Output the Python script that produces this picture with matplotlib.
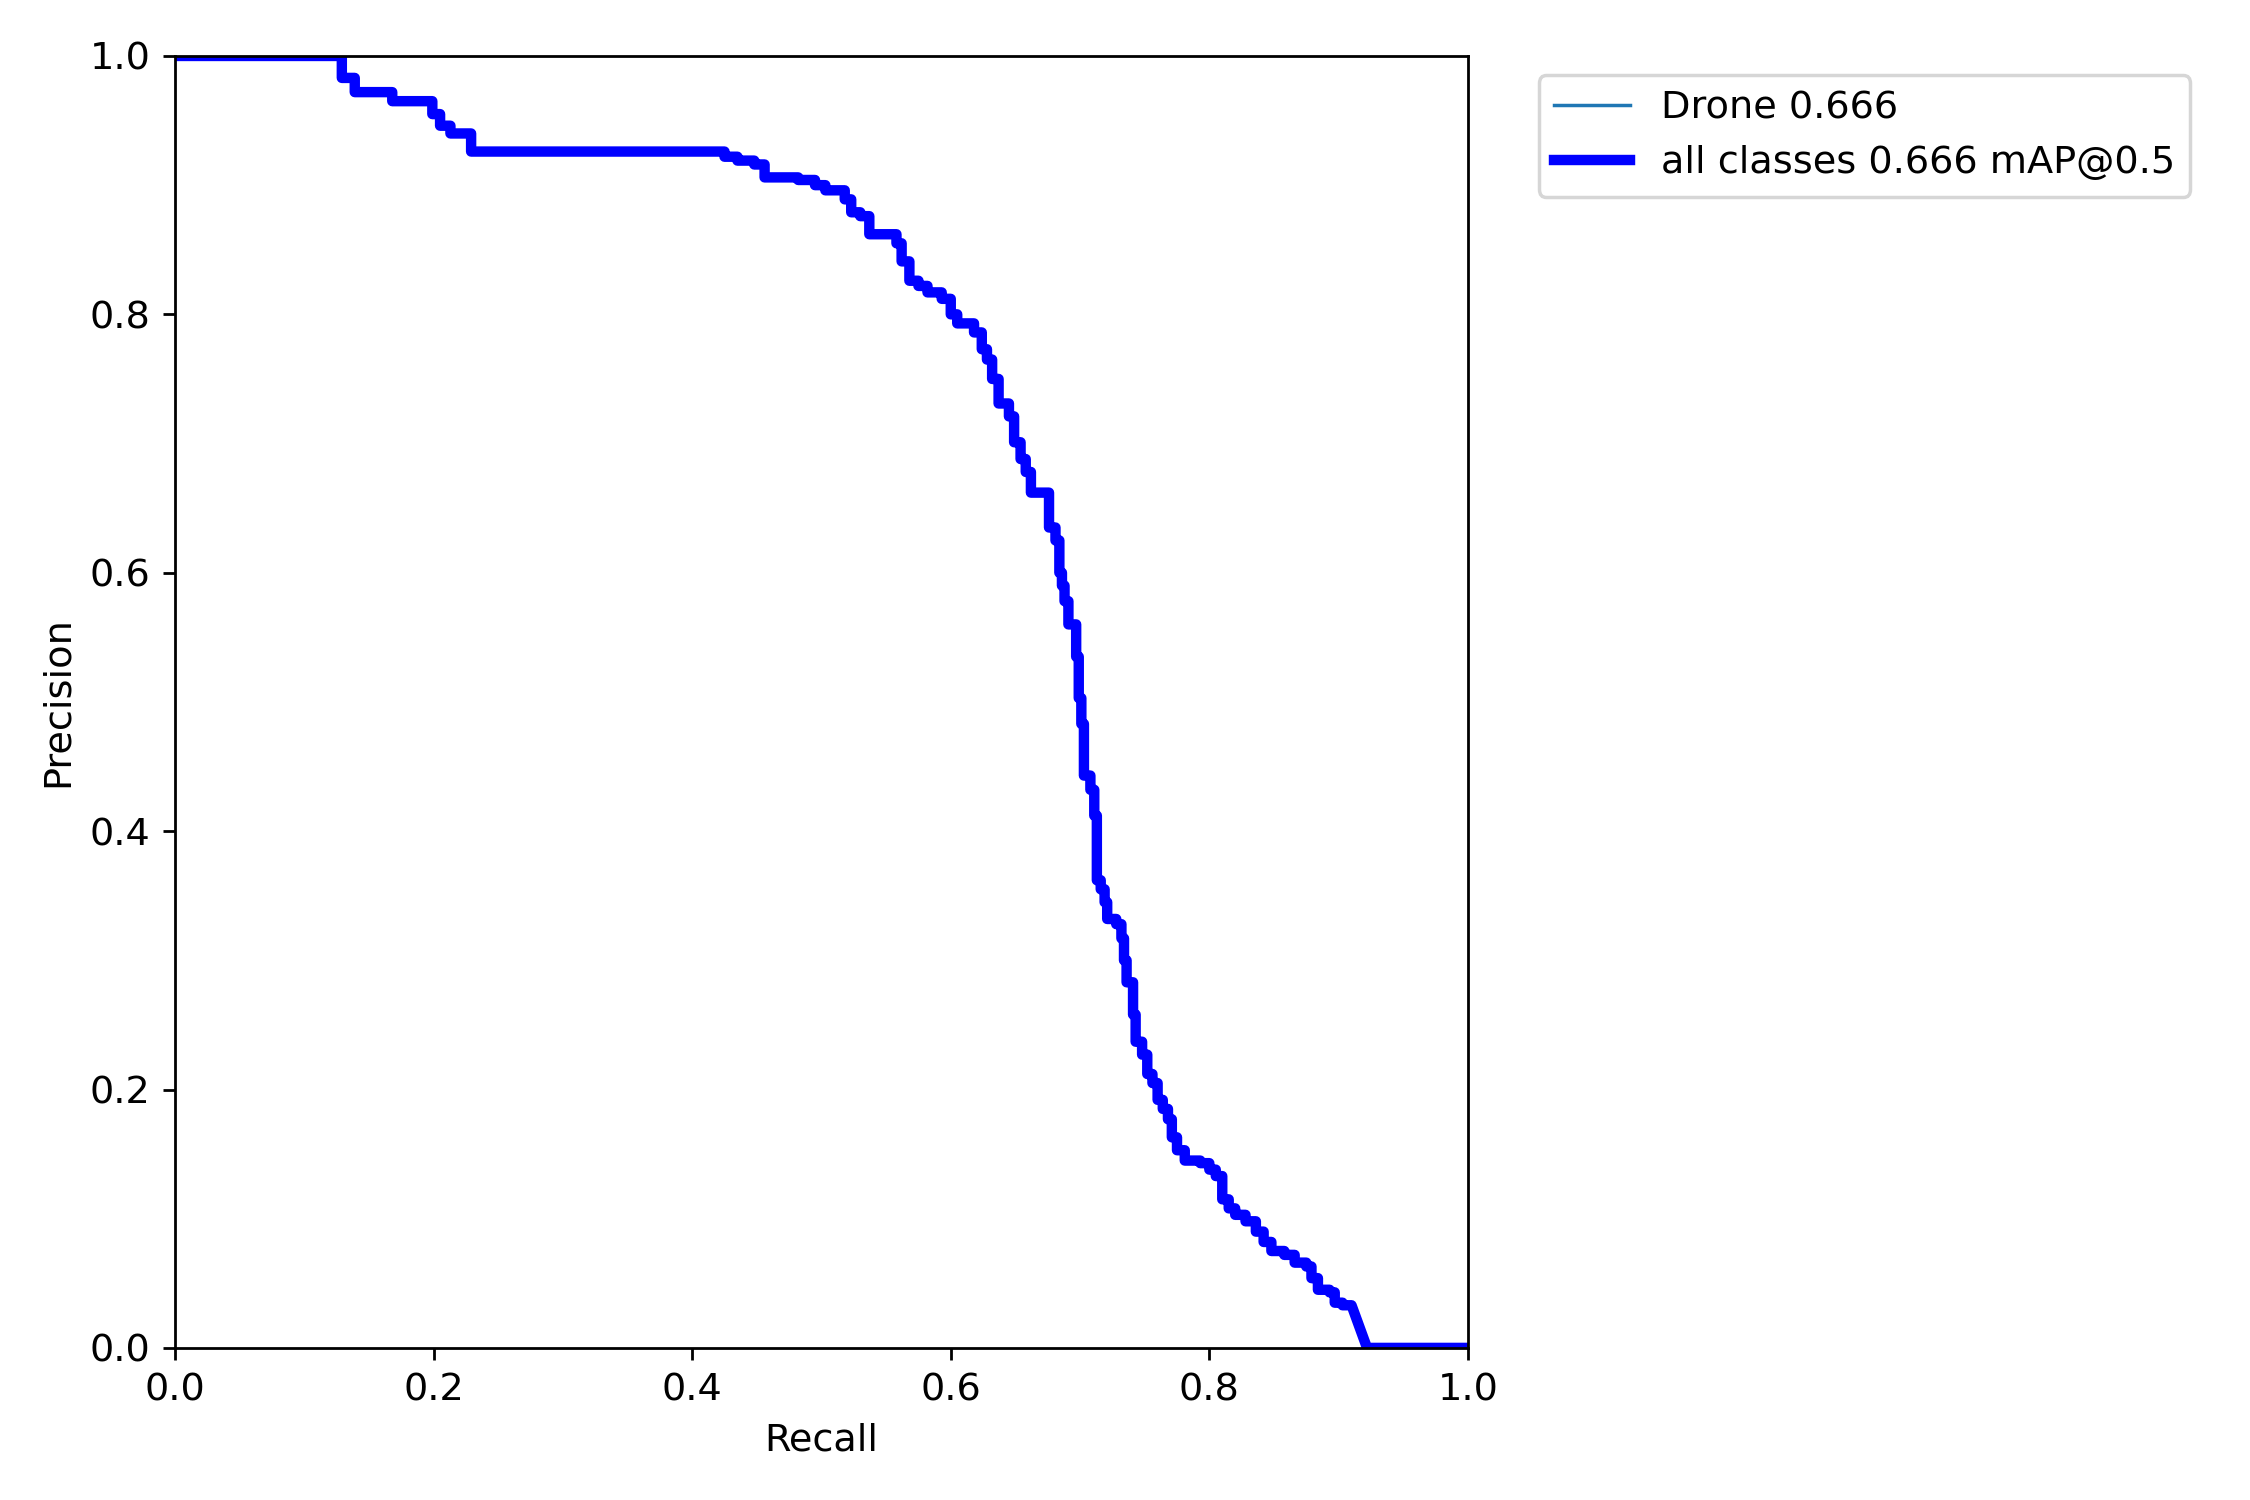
import matplotlib
matplotlib.use("Agg")
import matplotlib.pyplot as plt
import numpy as np

### OPTIONS ###
matplotlib.rc("font", size=11)

### DATA ###
# precision levels (step envelope) and the recall where each level starts
recall_start = [0.000, 0.129, 0.139, 0.168, 0.199, 0.205, 0.213, 0.229, 0.425, 0.435,
                0.448, 0.456, 0.482, 0.495, 0.503, 0.518, 0.523, 0.530, 0.537, 0.558,
                0.562, 0.568, 0.575, 0.582, 0.593, 0.600, 0.605, 0.618, 0.624, 0.628,
                0.632, 0.637, 0.645, 0.649, 0.654, 0.658, 0.662, 0.676, 0.681, 0.684,
                0.686, 0.688, 0.691, 0.697, 0.699, 0.701, 0.703, 0.708, 0.711, 0.713,
                0.716, 0.719, 0.721, 0.728, 0.732, 0.734, 0.736, 0.741, 0.743, 0.748,
                0.752, 0.756, 0.760, 0.764, 0.768, 0.771, 0.775, 0.781, 0.793, 0.800,
                0.805, 0.810, 0.815, 0.820, 0.828, 0.836, 0.842, 0.848, 0.858, 0.866,
                0.875, 0.879, 0.884, 0.893, 0.897, 0.903]
precision_lvl = [1.000, 0.983, 0.972, 0.965, 0.955, 0.946, 0.940, 0.926, 0.922, 0.919,
                 0.916, 0.906, 0.904, 0.900, 0.896, 0.889, 0.879, 0.876, 0.862, 0.855,
                 0.841, 0.826, 0.822, 0.817, 0.812, 0.800, 0.793, 0.786, 0.773, 0.765,
                 0.750, 0.731, 0.721, 0.701, 0.688, 0.678, 0.662, 0.635, 0.625, 0.600,
                 0.590, 0.578, 0.560, 0.535, 0.503, 0.483, 0.443, 0.432, 0.412, 0.362,
                 0.355, 0.345, 0.332, 0.328, 0.317, 0.300, 0.283, 0.258, 0.237, 0.227,
                 0.212, 0.205, 0.192, 0.185, 0.177, 0.163, 0.153, 0.145, 0.143, 0.138,
                 0.133, 0.115, 0.108, 0.103, 0.098, 0.090, 0.082, 0.075, 0.072, 0.066,
                 0.063, 0.054, 0.045, 0.043, 0.035, 0.033]
# tail: last level ends, drops to zero, stays at zero
tail_recall = [0.910, 0.922, 1.000]
tail_precision = [0.033, 0.000, 0.000]

class_name = "Drone"
class_ap = 0.666
map50 = 0.666


def build_curve(r_start, p_lvl, r_tail, p_tail):
    # horizontal run for each level, then vertical drop to the next
    r_end = list(r_start[1:]) + [r_tail[0]]
    xs = np.column_stack([r_start, r_end]).ravel()
    ys = np.repeat(p_lvl, 2)
    xs = np.concatenate([xs, r_tail[1:]])
    ys = np.concatenate([ys, p_tail[1:]])
    return xs, ys


def main():
    px, py = build_curve(recall_start, precision_lvl, tail_recall, tail_precision)

    fig, ax = plt.subplots(1, 1, figsize=(9, 6))
    fig.subplots_adjust(left=0.0778, right=0.6524, bottom=0.1014, top=0.9627)
    ax.plot(px, py, linewidth=1, label=f"{class_name} {class_ap:.3f}")
    ax.plot(px, py, linewidth=3, color="blue", label="all classes %.3f mAP@0.5" % map50)
    ax.set_xlabel("Recall")
    ax.set_ylabel("Precision")
    ax.set_xlim(0, 1)
    ax.set_ylim(0, 1)
    plt.legend(bbox_to_anchor=(1.04, 1), loc="upper left")
    fig.savefig("out.png", dpi=250)


if __name__ == "__main__":
    main()
